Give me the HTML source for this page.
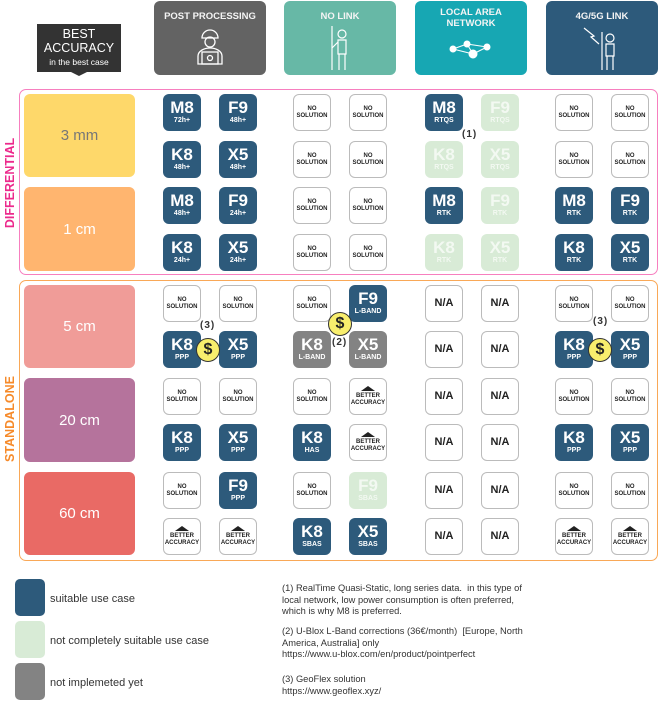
<!DOCTYPE html>
<html><head><meta charset="utf-8"><style>
*{margin:0;padding:0;box-sizing:border-box}
body{width:659px;height:701px;background:#fff;position:relative;overflow:hidden;font-family:"Liberation Sans",sans-serif}
.a{position:absolute}
.h{position:absolute;top:1px;width:112px;height:74px;border-radius:6px;color:#fff;font-size:9.5px;font-weight:bold;text-align:center;padding-top:10px;line-height:11px;color:#f4f4f4}
.L{position:absolute;left:24px;width:111px;border-radius:6px;color:#fff;font-size:15px;display:flex;align-items:center;justify-content:center}
.t{position:absolute;width:38px;height:37px;border-radius:6px;text-align:center;color:#fff}
.t b{display:block;font-size:17px;line-height:17px;margin-top:5px;font-weight:bold}
.t i{display:block;font-style:normal;font-size:7px;font-weight:bold;line-height:9px}
.d{background:#2d5a7b}.g{background:#d8ebd6;color:#f3f9f2}.x{background:#838383}
.n{background:#fff;border:1px solid #bbb;color:#222;font-size:6px;font-weight:bold;line-height:7px;display:flex;align-items:center;justify-content:center;flex-direction:column}
.na{font-size:11px}
.tri{width:0;height:0;border-left:7px solid transparent;border-right:7px solid transparent;border-bottom:5px solid #222;margin-bottom:2px}
.coin{position:absolute;width:24px;height:24px;border-radius:50%;background:#f8ee6d;border:1.5px solid #333;font-size:16px;font-weight:bold;color:#222;text-align:center;line-height:21px}
.lb{position:absolute;font-size:10px;font-weight:bold;color:#333;letter-spacing:1px}
.lg{position:absolute;left:15px;width:30px;height:37px;border-radius:5px}
.lt{position:absolute;left:50px;font-size:11px;color:#333}
.nt{position:absolute;left:282px;font-size:9.3px;color:#333;line-height:11.5px}
</style></head><body>
<!-- headers -->
<div class="a" style="left:37px;top:24px;width:84px;height:48px;background:#333;color:#fff;text-align:center;font-size:12.5px;line-height:13.5px;padding-top:4px">BEST<br>ACCURACY<br><span style="font-size:8.5px">in the best case</span></div>
<div class="a" style="left:71px;top:72px;width:0;height:0;border-left:8px solid transparent;border-right:8px solid transparent;border-top:4px solid #333"></div>
<div class="h" style="left:154px;background:#636363">POST PROCESSING
<svg width="40" height="44" style="display:block;margin:4px auto 0" viewBox="0 0 40 44" fill="none" stroke="#fff" stroke-width="1.3"><path d="M12 12a8 8 0 0 1 16 0z"/><circle cx="20" cy="16" r="5"/><path d="M8 38v-8a12 8 0 0 1 24 0v8z"/><rect x="12" y="26" width="16" height="12"/><circle cx="20" cy="32" r="2.5"/></svg></div>
<div class="h" style="left:284px;background:#67b8a6">NO LINK
<svg width="30" height="48" style="display:block;margin:2px auto 0" viewBox="0 0 30 48" fill="none" stroke="#fff" stroke-width="1.2"><line x1="7" y1="2" x2="7" y2="46"/><circle cx="17" cy="10" r="4"/><path d="M13 16h8v14h-8zM14 30v16M20 30v16M13 18l-6 6"/></svg></div>
<div class="h" style="left:415px;background:#17a7b3;padding-top:6px">LOCAL AREA<br>NETWORK
<svg width="44" height="20" style="display:block;margin:10px auto 0" viewBox="0 0 44 20" stroke="#fff" fill="#fff" stroke-width="1"><line x1="4" y1="10" x2="18" y2="5"/><line x1="18" y1="5" x2="38" y2="8"/><line x1="4" y1="10" x2="24" y2="15"/><line x1="24" y1="15" x2="38" y2="8"/><line x1="18" y1="5" x2="24" y2="15"/><circle cx="4" cy="10" r="3"/><circle cx="18" cy="5" r="3"/><circle cx="38" cy="8" r="3"/><circle cx="24" cy="15" r="4"/></svg></div>
<div class="h" style="left:546px;background:#2d5a7b">4G/5G LINK
<svg width="40" height="48" style="display:block;margin:2px auto 0" viewBox="0 0 40 48" fill="none" stroke="#fff" stroke-width="1.2"><path d="M2 4l10 8-3 1 8 7"/><line x1="20" y1="8" x2="20" y2="46"/><circle cx="28" cy="14" r="4"/><path d="M24 20h8v12h-8zM25 32v14M31 32v14"/></svg></div>
<!-- group borders -->
<div class="a" style="left:19px;top:89px;width:639px;height:186px;border:1.5px solid #f77fbf;border-radius:7px"></div>
<div class="a" style="left:19px;top:280px;width:639px;height:281px;border:1.5px solid #f9a857;border-radius:7px"></div>
<div class="a" style="left:10px;top:183px;transform:translate(-50%,-50%) rotate(-90deg);color:#ec2a8c;font-size:12.5px;font-weight:bold;white-space:nowrap">DIFFERENTIAL</div>
<div class="a" style="left:10px;top:419px;transform:translate(-50%,-50%) rotate(-90deg);color:#f68a2a;font-size:12.5px;font-weight:bold;white-space:nowrap">STANDALONE</div>
<!-- left labels -->
<div class="L" style="top:94px;height:83px;background:#fed86a;color:#777">3 mm</div>
<div class="L" style="top:187px;height:84px;background:#ffb56f">1 cm</div>
<div class="L" style="top:285px;height:83px;background:#f09c98">5 cm</div>
<div class="L" style="top:378px;height:84px;background:#b5739c">20 cm</div>
<div class="L" style="top:472px;height:83px;background:#e96a65">60 cm</div>
<!-- row 1 -->
<div class="t d" style="left:163px;top:94px"><b>M8</b><i>72h+</i></div>
<div class="t d" style="left:219px;top:94px"><b>F9</b><i>48h+</i></div>
<div class="t n" style="left:293px;top:94px">NO<br>SOLUTION</div>
<div class="t n" style="left:349px;top:94px">NO<br>SOLUTION</div>
<div class="t d" style="left:425px;top:94px"><b>M8</b><i>RTQS</i></div>
<div class="t g" style="left:481px;top:94px"><b>F9</b><i>RTQS</i></div>
<div class="t n" style="left:555px;top:94px">NO<br>SOLUTION</div>
<div class="t n" style="left:611px;top:94px">NO<br>SOLUTION</div>
<!-- row 2 -->
<div class="t d" style="left:163px;top:141px"><b>K8</b><i>48h+</i></div>
<div class="t d" style="left:219px;top:141px"><b>X5</b><i>48h+</i></div>
<div class="t n" style="left:293px;top:141px">NO<br>SOLUTION</div>
<div class="t n" style="left:349px;top:141px">NO<br>SOLUTION</div>
<div class="t g" style="left:425px;top:141px"><b>K8</b><i>RTQS</i></div>
<div class="t g" style="left:481px;top:141px"><b>X5</b><i>RTQS</i></div>
<div class="t n" style="left:555px;top:141px">NO<br>SOLUTION</div>
<div class="t n" style="left:611px;top:141px">NO<br>SOLUTION</div>
<div class="lb" style="left:462px;top:129px">(1)</div>
<!-- row 3 -->
<div class="t d" style="left:163px;top:187px"><b>M8</b><i>48h+</i></div>
<div class="t d" style="left:219px;top:187px"><b>F9</b><i>24h+</i></div>
<div class="t n" style="left:293px;top:187px">NO<br>SOLUTION</div>
<div class="t n" style="left:349px;top:187px">NO<br>SOLUTION</div>
<div class="t d" style="left:425px;top:187px"><b>M8</b><i>RTK</i></div>
<div class="t g" style="left:481px;top:187px"><b>F9</b><i>RTK</i></div>
<div class="t d" style="left:555px;top:187px"><b>M8</b><i>RTK</i></div>
<div class="t d" style="left:611px;top:187px"><b>F9</b><i>RTK</i></div>
<!-- row 4 -->
<div class="t d" style="left:163px;top:234px"><b>K8</b><i>24h+</i></div>
<div class="t d" style="left:219px;top:234px"><b>X5</b><i>24h+</i></div>
<div class="t n" style="left:293px;top:234px">NO<br>SOLUTION</div>
<div class="t n" style="left:349px;top:234px">NO<br>SOLUTION</div>
<div class="t g" style="left:425px;top:234px"><b>K8</b><i>RTK</i></div>
<div class="t g" style="left:481px;top:234px"><b>X5</b><i>RTK</i></div>
<div class="t d" style="left:555px;top:234px"><b>K8</b><i>RTK</i></div>
<div class="t d" style="left:611px;top:234px"><b>X5</b><i>RTK</i></div>
<!-- row 5 -->
<div class="t n" style="left:163px;top:285px">NO<br>SOLUTION</div>
<div class="t n" style="left:219px;top:285px">NO<br>SOLUTION</div>
<div class="t n" style="left:293px;top:285px">NO<br>SOLUTION</div>
<div class="t d" style="left:349px;top:285px"><b>F9</b><i>L-BAND</i></div>
<div class="t n na" style="left:425px;top:285px">N/A</div>
<div class="t n na" style="left:481px;top:285px">N/A</div>
<div class="t n" style="left:555px;top:285px">NO<br>SOLUTION</div>
<div class="t n" style="left:611px;top:285px">NO<br>SOLUTION</div>
<!-- row 6 -->
<div class="t d" style="left:163px;top:331px"><b>K8</b><i>PPP</i></div>
<div class="t d" style="left:219px;top:331px"><b>X5</b><i>PPP</i></div>
<div class="t x" style="left:293px;top:331px"><b>K8</b><i>L-BAND</i></div>
<div class="t x" style="left:349px;top:331px"><b>X5</b><i>L-BAND</i></div>
<div class="t n na" style="left:425px;top:331px">N/A</div>
<div class="t n na" style="left:481px;top:331px">N/A</div>
<div class="t d" style="left:555px;top:331px"><b>K8</b><i>PPP</i></div>
<div class="t d" style="left:611px;top:331px"><b>X5</b><i>PPP</i></div>
<div class="lb" style="left:200px;top:320px">(3)</div>
<div class="coin" style="left:196px;top:338px">$</div>
<div class="coin" style="left:328px;top:312px">$</div>
<div class="lb" style="left:332px;top:337px">(2)</div>
<div class="lb" style="left:593px;top:316px">(3)</div>
<div class="coin" style="left:588px;top:338px">$</div>
<!-- row 7 -->
<div class="t n" style="left:163px;top:378px">NO<br>SOLUTION</div>
<div class="t n" style="left:219px;top:378px">NO<br>SOLUTION</div>
<div class="t n" style="left:293px;top:378px">NO<br>SOLUTION</div>
<div class="t n" style="left:349px;top:378px"><div class="tri"></div>BETTER<br>ACCURACY</div>
<div class="t n na" style="left:425px;top:378px">N/A</div>
<div class="t n na" style="left:481px;top:378px">N/A</div>
<div class="t n" style="left:555px;top:378px">NO<br>SOLUTION</div>
<div class="t n" style="left:611px;top:378px">NO<br>SOLUTION</div>
<!-- row 8 -->
<div class="t d" style="left:163px;top:424px"><b>K8</b><i>PPP</i></div>
<div class="t d" style="left:219px;top:424px"><b>X5</b><i>PPP</i></div>
<div class="t d" style="left:293px;top:424px"><b>K8</b><i>HAS</i></div>
<div class="t n" style="left:349px;top:424px"><div class="tri"></div>BETTER<br>ACCURACY</div>
<div class="t n na" style="left:425px;top:424px">N/A</div>
<div class="t n na" style="left:481px;top:424px">N/A</div>
<div class="t d" style="left:555px;top:424px"><b>K8</b><i>PPP</i></div>
<div class="t d" style="left:611px;top:424px"><b>X5</b><i>PPP</i></div>
<!-- row 9 -->
<div class="t n" style="left:163px;top:472px">NO<br>SOLUTION</div>
<div class="t d" style="left:219px;top:472px"><b>F9</b><i>PPP</i></div>
<div class="t n" style="left:293px;top:472px">NO<br>SOLUTION</div>
<div class="t g" style="left:349px;top:472px"><b>F9</b><i>SBAS</i></div>
<div class="t n na" style="left:425px;top:472px">N/A</div>
<div class="t n na" style="left:481px;top:472px">N/A</div>
<div class="t n" style="left:555px;top:472px">NO<br>SOLUTION</div>
<div class="t n" style="left:611px;top:472px">NO<br>SOLUTION</div>
<!-- row 10 -->
<div class="t n" style="left:163px;top:518px"><div class="tri"></div>BETTER<br>ACCURACY</div>
<div class="t n" style="left:219px;top:518px"><div class="tri"></div>BETTER<br>ACCURACY</div>
<div class="t d" style="left:293px;top:518px"><b>K8</b><i>SBAS</i></div>
<div class="t d" style="left:349px;top:518px"><b>X5</b><i>SBAS</i></div>
<div class="t n na" style="left:425px;top:518px">N/A</div>
<div class="t n na" style="left:481px;top:518px">N/A</div>
<div class="t n" style="left:555px;top:518px"><div class="tri"></div>BETTER<br>ACCURACY</div>
<div class="t n" style="left:611px;top:518px"><div class="tri"></div>BETTER<br>ACCURACY</div>
<!-- legend -->
<div class="lg" style="top:579px;background:#2d5a7b"></div>
<div class="lg" style="top:621px;background:#d8ebd6"></div>
<div class="lg" style="top:663px;background:#838383"></div>
<div class="lt" style="top:593px">suitable use case</div>
<div class="lt" style="top:635px">not completely suitable use case</div>
<div class="lt" style="top:677px">not implemeted yet</div>
<div class="nt" style="top:583px">(1) RealTime Quasi-Static, long series data.&nbsp; in this type of<br>local network, low power consumption is often preferred,<br>which is why M8 is preferred.</div>
<div class="nt" style="top:626px">(2) U-Blox L-Band corrections (36€/month)&nbsp; [Europe, North<br>America, Australia] only<br>https://www.u-blox.com/en/product/pointperfect</div>
<div class="nt" style="top:674px">(3) GeoFlex solution<br>https://www.geoflex.xyz/</div>
</body></html>
